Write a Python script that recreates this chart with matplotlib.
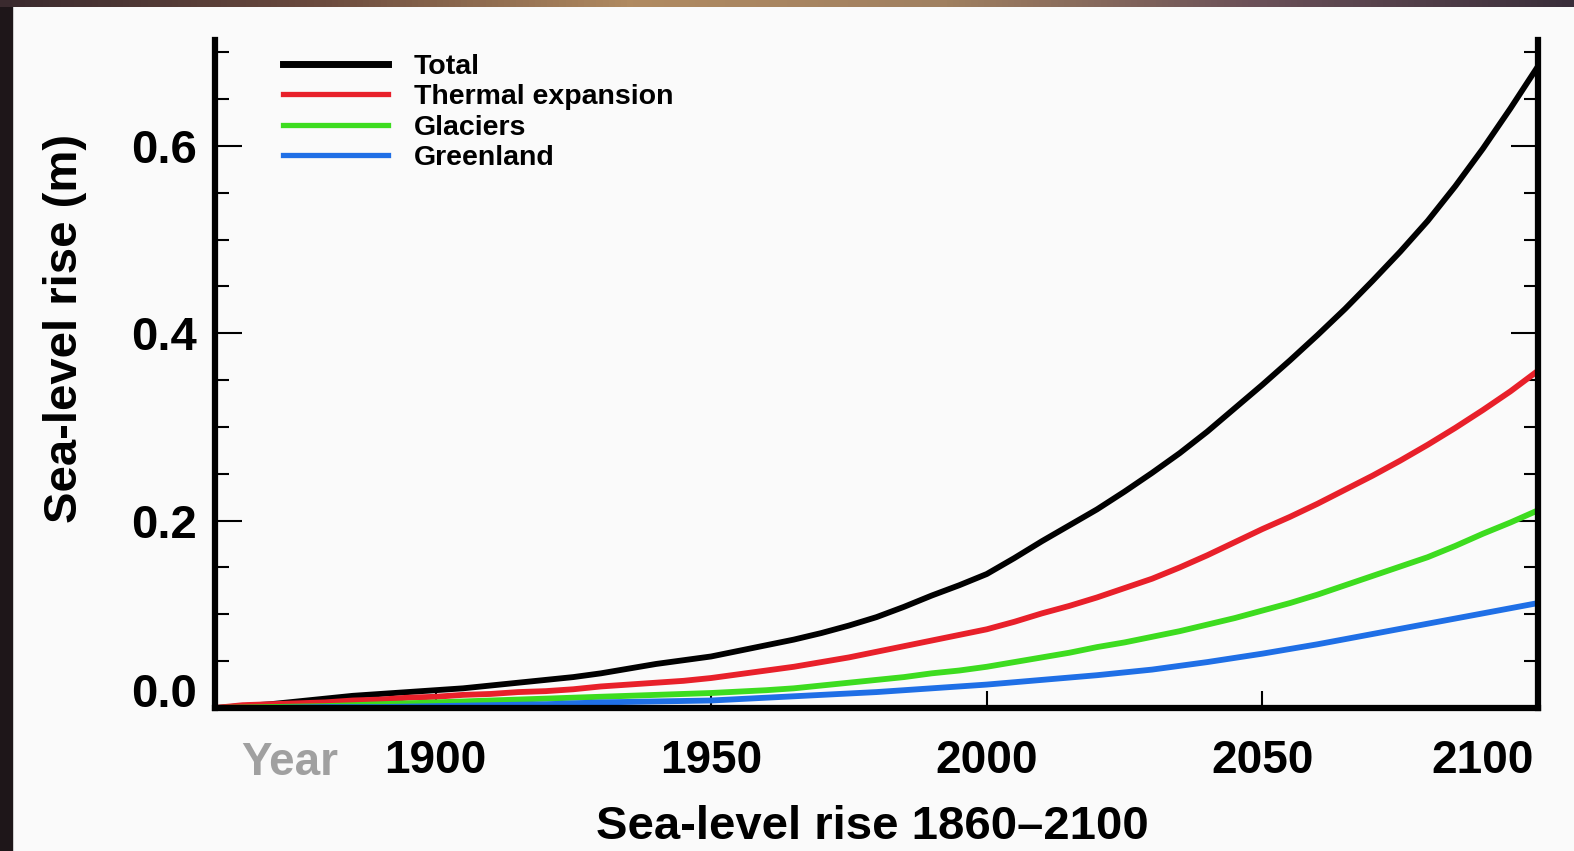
import numpy as np
import matplotlib.pyplot as plt
import matplotlib.transforms as mtrans
from matplotlib.colors import LinearSegmentedColormap
from matplotlib.patches import Rectangle
from matplotlib.ticker import MultipleLocator

# data (metres of sea-level rise), every 5 years
years = list(range(1860, 2101, 5))
total = [0.000, 0.002, 0.004, 0.007, 0.010, 0.013, 0.015, 0.017, 0.019, 0.021,
         0.024, 0.027, 0.030, 0.033, 0.037, 0.042, 0.047, 0.051, 0.055, 0.061,
         0.067, 0.073, 0.080, 0.088, 0.097, 0.108, 0.120, 0.131, 0.143, 0.160,
         0.178, 0.195, 0.212, 0.231, 0.251, 0.272, 0.295, 0.320, 0.345, 0.371,
         0.398, 0.426, 0.456, 0.487, 0.520, 0.557, 0.597, 0.640, 0.685]
thermal = [0.000, 0.003, 0.004, 0.005, 0.006, 0.008, 0.009, 0.011, 0.012, 0.014,
           0.015, 0.017, 0.018, 0.020, 0.023, 0.025, 0.027, 0.029, 0.032, 0.036,
           0.040, 0.044, 0.049, 0.054, 0.060, 0.066, 0.072, 0.078, 0.084, 0.092,
           0.101, 0.109, 0.118, 0.128, 0.138, 0.150, 0.163, 0.177, 0.191, 0.204,
           0.218, 0.233, 0.248, 0.264, 0.281, 0.299, 0.318, 0.338, 0.360]
glaciers = [0.000, 0.0005, 0.001, 0.0015, 0.002, 0.003, 0.004, 0.005, 0.006, 0.007,
            0.008, 0.009, 0.010, 0.011, 0.012, 0.013, 0.014, 0.015, 0.016, 0.0175,
            0.019, 0.021, 0.024, 0.027, 0.030, 0.033, 0.037, 0.040, 0.044, 0.049,
            0.054, 0.059, 0.065, 0.070, 0.076, 0.082, 0.089, 0.096, 0.104, 0.112,
            0.121, 0.131, 0.141, 0.151, 0.161, 0.173, 0.186, 0.198, 0.211]
greenland = [0.000, 0.000, 0.000, 0.0005, 0.001, 0.001, 0.001, 0.0015, 0.002, 0.0025,
             0.003, 0.0035, 0.004, 0.005, 0.006, 0.0065, 0.007, 0.0075, 0.008, 0.0095,
             0.011, 0.0125, 0.014, 0.0155, 0.017, 0.019, 0.021, 0.023, 0.025, 0.0275,
             0.030, 0.0325, 0.035, 0.038, 0.041, 0.045, 0.049, 0.0535, 0.058, 0.063,
             0.068, 0.0735, 0.079, 0.0845, 0.090, 0.0955, 0.101, 0.1065, 0.112]

labels = ["Total", "Thermal expansion", "Glaciers", "Greenland"]
colors = ["#000000", "#e8202a", "#3ddc1f", "#1f6fe6"]
xticks = [1900, 1950, 2000, 2050, 2100]
yticks = [0.0, 0.2, 0.4, 0.6]
ytick_labels = ["0.0", "0.2", "0.4", "0.6"]

plt.rcParams['font.family'] = ['Liberation Sans', 'DejaVu Sans']
plt.rcParams['font.weight'] = 'bold'

W, H = 1574, 851
fig = plt.figure(figsize=(W / 100, H / 100), dpi=100, facecolor='#fafafa')

# dark photo border at top and left
band = fig.add_axes([0, 1 - 7 / H, 1, 7 / H])
bcmap = LinearSegmentedColormap.from_list(
    'band', ['#3a2a2e', '#6a4a3e', '#b08a60', '#a08060', '#6a5058', '#3a2e3a'])
band.imshow(np.linspace(0, 1, 256)[None, :], cmap=bcmap, aspect='auto')
band.axis('off')
fig.add_artist(Rectangle((0, 0), 12 / W, 1, transform=fig.transFigure,
                         color='#1e1619', zorder=0))

ax = fig.add_axes([215 / W, 1 - 708 / H, (1538 - 215) / W, (708 - 40) / H])
ax.set_facecolor('none')

for vals, lab, col in zip([total, thermal, glaciers, greenland], labels, colors):
    ax.plot(years, vals, color=col, lw=4.2, label=lab, solid_joinstyle='round')

ax.set_xlim(1860, 2100)
ax.set_ylim(0, 0.713)

ax.spines['top'].set_visible(False)
for s in ['left', 'right', 'bottom']:
    ax.spines[s].set_linewidth(4.5)

ax.set_xticks(xticks)
ax.set_yticks(yticks)
ax.set_yticklabels(ytick_labels)
ax.yaxis.set_minor_locator(MultipleLocator(0.05))
ax.tick_params(axis='x', direction='in', length=12, width=1.5,
               labelsize=33, pad=22, top=False)
ax.tick_params(axis='y', which='major', direction='in', length=19.5, width=1.5,
               labelsize=34, pad=13, right=True)
ax.tick_params(axis='y', which='minor', direction='in', length=10, width=1.5,
               right=True)

# nudge the "0.0" label up and the "2100" label left, as in the original
t0 = ax.yaxis.get_major_ticks()[0].label1
t0.set_transform(t0.get_transform() + mtrans.ScaledTranslation(0, 0.18, fig.dpi_scale_trans))
t1 = ax.xaxis.get_major_ticks()[-1].label1
t1.set_transform(t1.get_transform() + mtrans.ScaledTranslation(-0.55, 0, fig.dpi_scale_trans))

leg = ax.legend(loc='upper left', bbox_to_anchor=(283 / W, 1 - 54 / H),
                bbox_transform=fig.transFigure, frameon=False,
                prop=dict(size=20.5, weight='bold'), handlelength=3.7,
                handletextpad=0.9, labelspacing=0.15, borderpad=0, borderaxespad=0)
for i, ln in enumerate(leg.get_lines()):
    ln.set_linewidth(5 if i == 0 else 3.8)

fig.text(290 / W, 1 - 775 / H, "Year", color='#a0a0a0', ha='center',
         va='baseline', fontsize=33)
fig.text(65 / W, 1 - 328 / H, "Sea-level rise (m)", rotation=90,
         ha='center', va='center', fontsize=34)
fig.text(872 / W, 1 - 839 / H, "Sea-level rise 1860\u20132100",
         ha='center', va='baseline', fontsize=34)

fig.savefig('out.png', dpi=100, facecolor=fig.get_facecolor())
